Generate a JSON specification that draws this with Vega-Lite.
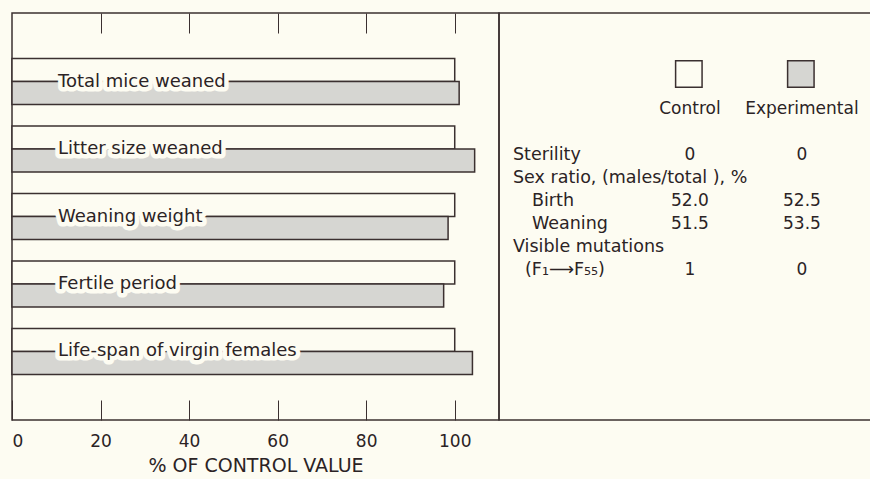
{
  "$schema": "https://vega.github.io/schema/vega-lite/v6.json",
  "padding": {"left": 10, "top": 11, "right": 0, "bottom": 14},
  "background": "#fdfcf2",
  "spacing": 0,
  "bounds": "flush",
  "config": {
    "font": "DejaVu Sans",
    "view": {"stroke": "#3b3030", "strokeWidth": 1.5},
    "text": {"fontSize": 17, "color": "#2b2325"},
    "axis": {
      "labelFont": "DejaVu Sans",
      "labelFontSize": 17,
      "labelColor": "#2b2325",
      "titleFont": "DejaVu Sans",
      "titleFontSize": 19,
      "titleFontWeight": "normal",
      "titleColor": "#2b2325",
      "tickColor": "#3b3030",
      "tickWidth": 1,
      "grid": false,
      "domain": false
    }
  },
  "hconcat": [
    {
      "width": 487,
      "height": 407,
      "data": {
        "values": [
          {"measure": "Total mice weaned", "group": "Control", "value": 100},
          {"measure": "Total mice weaned", "group": "Experimental", "value": 101},
          {"measure": "Litter size weaned", "group": "Control", "value": 100},
          {"measure": "Litter size weaned", "group": "Experimental", "value": 104.5},
          {"measure": "Weaning weight", "group": "Control", "value": 100},
          {"measure": "Weaning weight", "group": "Experimental", "value": 98.5},
          {"measure": "Fertile period", "group": "Control", "value": 100},
          {"measure": "Fertile period", "group": "Experimental", "value": 97.5},
          {"measure": "Life-span of virgin females", "group": "Control", "value": 100},
          {"measure": "Life-span of virgin females", "group": "Experimental", "value": 104}
        ]
      },
      "resolve": {"axis": {"x": "independent"}},
      "layer": [
        {
          "mark": {"type": "bar", "stroke": "#3b3030", "strokeWidth": 1.5},
          "encoding": {
            "y": {"field": "measure", "type": "nominal", "sort": null, "axis": null,
                  "scale": {"paddingInner": 0.318, "paddingOuter": 0.674}},
            "yOffset": {"field": "group", "type": "nominal", "sort": ["Control", "Experimental"],
                        "scale": {"paddingInner": 0, "paddingOuter": 0}},
            "x": {"field": "value", "type": "quantitative",
                  "scale": {"domain": [0, 110], "nice": false, "zero": true},
                  "axis": {"orient": "bottom", "values": [0, 20, 40, 60, 80, 100], "tickSize": -20,
                           "labelPadding": 33, "labelFlush": true, "title": "% OF CONTROL VALUE",
                           "titlePadding": 7}},
            "color": {"field": "group", "type": "nominal",
                      "scale": {"domain": ["Control", "Experimental"], "range": ["#fdfcf2", "#d6d6d2"]},
                      "legend": null}
          }
        },
        {
          "transform": [{"filter": "datum.group === 'Control'"}],
          "mark": {"type": "text", "align": "left", "baseline": "middle", "dx": 46, "fontSize": 18,
                   "stroke": "#fdfcf2", "strokeWidth": 9, "strokeJoin": "round", "fill": "#fdfcf2"},
          "encoding": {
            "y": {"field": "measure", "type": "nominal", "sort": null, "axis": null},
            "x": {"datum": 0, "type": "quantitative",
                  "axis": {"orient": "top", "values": [20, 40, 60, 80, 100], "tickSize": -20,
                           "labels": false, "title": null}},
            "text": {"field": "measure"}
          }
        },
        {
          "transform": [{"filter": "datum.group === 'Control'"}],
          "mark": {"type": "text", "align": "left", "baseline": "middle", "dx": 46, "fontSize": 18,
                   "fill": "#2b2325"},
          "encoding": {
            "y": {"field": "measure", "type": "nominal", "sort": null, "axis": null},
            "x": {"datum": 0, "type": "quantitative", "axis": null},
            "text": {"field": "measure"}
          }
        }
      ]
    },
    {
      "width": 374,
      "height": 407,
      "data": {
        "values": [
          {"row": "box", "col": "Control", "kind": "box", "text": ""},
          {"row": "box", "col": "Experimental", "kind": "box", "text": ""},
          {"row": "label", "col": "Control", "kind": "value", "text": "Control"},
          {"row": "label", "col": "Experimental", "kind": "value", "text": "Experimental"},
          {"row": "Sterility", "col": "label", "kind": "heading", "text": "Sterility"},
          {"row": "Sterility", "col": "Control", "kind": "value", "text": "0"},
          {"row": "Sterility", "col": "Experimental", "kind": "value", "text": "0"},
          {"row": "Sex ratio", "col": "label", "kind": "heading", "text": "Sex ratio, (males/total ), %"},
          {"row": "Birth", "col": "label", "kind": "sub", "text": "Birth"},
          {"row": "Birth", "col": "Control", "kind": "value", "text": "52.0"},
          {"row": "Birth", "col": "Experimental", "kind": "value", "text": "52.5"},
          {"row": "Weaning", "col": "label", "kind": "sub", "text": "Weaning"},
          {"row": "Weaning", "col": "Control", "kind": "value", "text": "51.5"},
          {"row": "Weaning", "col": "Experimental", "kind": "value", "text": "53.5"},
          {"row": "Visible mutations", "col": "label", "kind": "heading", "text": "Visible mutations"},
          {"row": "F1-F55", "col": "label", "kind": "sub2", "text": "(F₁⟶F₅₅)"},
          {"row": "F1-F55", "col": "Control", "kind": "value", "text": "1"},
          {"row": "F1-F55", "col": "Experimental", "kind": "value", "text": "0"}
        ]
      },
      "layer": [
        {
          "transform": [{"filter": "datum.kind === 'box'"}],
          "mark": {"type": "square", "size": 700, "filled": true, "stroke": "#3b3030", "strokeWidth": 1.5, "opacity": 1},
          "encoding": {
            "x": {"field": "col", "type": "nominal", "axis": null, "bandPosition": 0.57,
                  "scale": {"type": "band", "domain": ["label", "Control", "Experimental"], "paddingInner": 0, "paddingOuter": 0, "range": [14, 350]}},
            "y": {"field": "row", "type": "nominal", "axis": null,
                  "scale": {"type": "point", "domain": ["box", "s1", "s2", "label", "s3", "s4", "s5", "Sterility", "s6", "Sex ratio", "s7", "Birth", "s8", "Weaning", "s9", "Visible mutations", "s10", "F1-F55"], "padding": 0, "range": [61, 257]}},
            "color": {"field": "col", "type": "nominal",
                      "scale": {"domain": ["Control", "Experimental"], "range": ["#fdfcf2", "#d6d6d2"]},
                      "legend": null}
          }
        },
        {
          "transform": [{"filter": "datum.kind === 'value'"}],
          "mark": {"type": "text", "align": "center", "baseline": "middle", "fontSize": 17, "fill": "#2b2325"},
          "encoding": {
            "x": {"field": "col", "type": "nominal", "axis": null, "bandPosition": 0.58,
                  "scale": {"type": "band", "domain": ["label", "Control", "Experimental"], "paddingInner": 0, "paddingOuter": 0, "range": [14, 350]}},
            "y": {"field": "row", "type": "nominal", "axis": null,
                  "scale": {"type": "point", "domain": ["box", "s1", "s2", "label", "s3", "s4", "s5", "Sterility", "s6", "Sex ratio", "s7", "Birth", "s8", "Weaning", "s9", "Visible mutations", "s10", "F1-F55"], "padding": 0, "range": [61, 257]}},
            "text": {"field": "text"}
          }
        },
        {
          "transform": [{"filter": "datum.kind === 'heading'"}],
          "mark": {"type": "text", "align": "left", "baseline": "middle", "fontSize": 17.5, "fill": "#2b2325"},
          "encoding": {
            "x": {"field": "col", "type": "nominal", "axis": null, "bandPosition": 0,
                  "scale": {"type": "band", "domain": ["label", "Control", "Experimental"], "paddingInner": 0, "paddingOuter": 0, "range": [14, 350]}},
            "y": {"field": "row", "type": "nominal", "axis": null,
                  "scale": {"type": "point", "domain": ["box", "s1", "s2", "label", "s3", "s4", "s5", "Sterility", "s6", "Sex ratio", "s7", "Birth", "s8", "Weaning", "s9", "Visible mutations", "s10", "F1-F55"], "padding": 0, "range": [61, 257]}},
            "text": {"field": "text"}
          }
        },
        {
          "transform": [{"filter": "datum.kind === 'sub'"}],
          "mark": {"type": "text", "align": "left", "baseline": "middle", "fontSize": 17.5, "fill": "#2b2325", "dx": 19},
          "encoding": {
            "x": {"field": "col", "type": "nominal", "axis": null, "bandPosition": 0,
                  "scale": {"type": "band", "domain": ["label", "Control", "Experimental"], "paddingInner": 0, "paddingOuter": 0, "range": [14, 350]}},
            "y": {"field": "row", "type": "nominal", "axis": null,
                  "scale": {"type": "point", "domain": ["box", "s1", "s2", "label", "s3", "s4", "s5", "Sterility", "s6", "Sex ratio", "s7", "Birth", "s8", "Weaning", "s9", "Visible mutations", "s10", "F1-F55"], "padding": 0, "range": [61, 257]}},
            "text": {"field": "text"}
          }
        },
        {
          "transform": [{"filter": "datum.kind === 'sub2'"}],
          "mark": {"type": "text", "align": "left", "baseline": "middle", "fontSize": 17.5, "fill": "#2b2325", "dx": 12},
          "encoding": {
            "x": {"field": "col", "type": "nominal", "axis": null, "bandPosition": 0,
                  "scale": {"type": "band", "domain": ["label", "Control", "Experimental"], "paddingInner": 0, "paddingOuter": 0, "range": [14, 350]}},
            "y": {"field": "row", "type": "nominal", "axis": null,
                  "scale": {"type": "point", "domain": ["box", "s1", "s2", "label", "s3", "s4", "s5", "Sterility", "s6", "Sex ratio", "s7", "Birth", "s8", "Weaning", "s9", "Visible mutations", "s10", "F1-F55"], "padding": 0, "range": [61, 257]}},
            "text": {"field": "text"}
          }
        }
      ]
    }
  ]
}
